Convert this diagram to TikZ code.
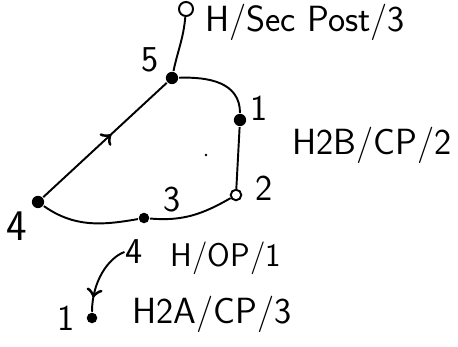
\documentclass[tikz,border=0pt]{standalone}
\usepackage{amsmath}
\usetikzlibrary{decorations.markings}

\tikzset{
  fdot/.style={circle, fill, inner sep=0pt, minimum size=5pt},
  odot/.style={circle, draw, inner sep=0pt, minimum size=5pt},
  lbl/.style={font=\sffamily\LARGE, inner sep=0pt},
  midarrow/.style={postaction={decorate},
    decoration={markings, mark=at position #1 with {\arrow[scale=1.6]{>}}}}
}

\begin{document}
\begin{tikzpicture}[x=0.02cm, y=-0.02cm, line width=1.1pt]
  \useasboundingbox (0, 0) rectangle (458, 347);
  % the loop
  \node (top) at (186, 9) [odot, minimum size=8pt] {};
  \node (n5) at (172, 78) [fdot, minimum size=7pt] {};
  \node (n1) at (240, 120) [fdot, minimum size=7pt] {};
  \node (n2) at (236, 195) [odot, minimum size=6pt] {};
  \node (n3) at (144, 218) [fdot, minimum size=6pt] {};
  \node (n4) at (38, 202) [fdot, minimum size=7pt] {};
  \node (speck) at (206, 155) [fdot, minimum size=1.5pt] {};

  \draw (n5) to[out=78, in=-95] (top);
  \draw (n5) to[out=2, in=90, looseness=1.1] (n1);
  \draw (n1) -- (n2);
  \draw (n2) to[out=-150, in=-5] (n3);
  \draw (n3) to[out=190, in=-35] (n4);
  \draw[midarrow=0.55] (n4) -- (n5);

  % numbers on the loop
  \node (l5) at (150, 60) [lbl, font=\sffamily\huge] {5};
  \node (l1) at (259, 108) [lbl, font=\sffamily\huge] {1};
  \node (l2) at (264, 188) [lbl, font=\sffamily\huge] {2};
  \node (l3) at (172, 200) [lbl, font=\sffamily\huge] {3};
  \node (l4) at (17, 226) [lbl, font=\sffamily\Huge] {4};

  \node (tsec) at (305, 22) [lbl, font=\sffamily\huge] {H/Sec Post/3};
  \node (tb) at (372, 145) [lbl, font=\sffamily\huge] {H2B/CP/2};

  % the branch below
  \node (m4) at (134, 252) [lbl, font=\sffamily\huge] {4};
  \node (top1) at (226, 258) [lbl, font=\sffamily\LARGE, scale=1.08] {H/OP/1};
  \node (b1) at (92, 318) [fdot, minimum size=6pt] {};
  \node (lb1) at (66, 318) [lbl, font=\sffamily\huge] {1};
  \node (ta) at (212, 314) [lbl, font=\sffamily\huge] {H2A/CP/3};

  \draw[midarrow=0.8] (m4.west) .. controls (108, 258) and (92, 282) .. (b1);
\end{tikzpicture}
\end{document}
